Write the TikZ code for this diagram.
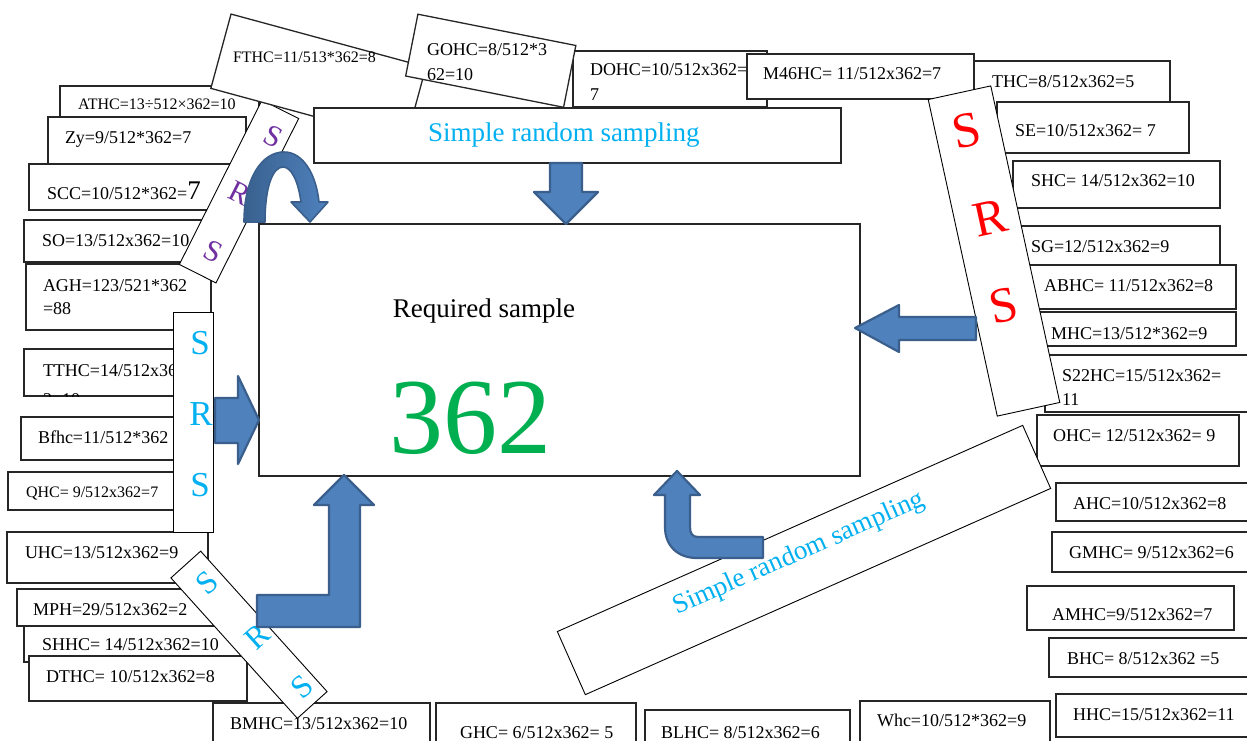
\documentclass[tikz,border=0pt]{standalone}
\usepackage{fontspec}
\setmainfont{Liberation Serif}
\definecolor{arrowblue}{HTML}{4F81BD}
\definecolor{arrowedge}{HTML}{3A5F8C}
\definecolor{arrowdark}{HTML}{39618F}
\definecolor{srscyan}{HTML}{00B0F0}
\definecolor{srspurple}{HTML}{7030A0}
\definecolor{srsred}{HTML}{FF0000}
\definecolor{samplegreen}{HTML}{00B050}
\tikzset{
  cellbox/.style={draw=black!85, line width=1.3pt, fill=white, inner sep=0pt, outer sep=0pt},
  srsbox/.style={draw=black, line width=0.9pt, fill=white, inner sep=0pt, outer sep=0pt},
  txt/.style={inner sep=0pt, outer sep=0pt, anchor=base west, font=\fontsize{18}{22}\selectfont},
  txts/.style={txt, font=\fontsize{16}{20}\selectfont},
  bigtxt/.style={inner sep=0pt, outer sep=0pt, font=\fontsize{27}{30}\selectfont},
  letter/.style={inner sep=0pt, outer sep=0pt},
  blockarrow/.style={fill=arrowblue, draw=arrowedge, line width=2.2pt, line join=round},
  curvearrow/.style={left color=arrowdark, right color=arrowblue, draw=arrowedge, line width=1.6pt, line join=round}
}
% axis-aligned box given by its corners
\newcommand\boxnode[5]{\node[cellbox, minimum width={#4-#2}, minimum height={#5-#3}] (#1) at ({(#2+#4)/2},{(#3+#5)/2}) {};}
\begin{document}
\begin{tikzpicture}[x=1pt,y=-1pt]
\useasboundingbox[fill=white] (0,0) rectangle (1247,741);

% ---- left column of strata ----
\boxnode{athc}{60}{86}{259}{130}
\node[txts] (athc-t) at (78,110) {ATHC=13÷512×362=10};
\boxnode{zy}{48}{117}{246}{164}
\node[txt] (zy-t) at (65,143) {Zy=9/512*362=7};
\boxnode{scc}{29}{164}{230}{210}
\node[txt] (scc-t) at (47,199) {SCC=10/512*362={\fontsize{27}{27}\selectfont 7}};
\boxnode{so}{24}{220}{215}{262}
\node[txt] (so-t) at (42,246) {SO=13/512x362=10};
\boxnode{agh}{26}{264}{211}{330}
\node[txt] (agh-t1) at (43,291) {AGH=123/521*362};
\node[txt] (agh-t2) at (43,314) {=88};
\boxnode{tthc}{24}{349}{190}{396}
\begin{scope}
  \clip (24,349) rectangle (190,396);
  \node[txt] (tthc-t1) at (43,376) {TTHC=14/512x36};
  \node[txt] (tthc-t2) at (43,405) {2=10};
\end{scope}
\boxnode{bfhc}{21}{417}{190}{460}
\node[txt] (bfhc-t) at (38,443) {Bfhc=11/512*362};
\boxnode{qhc}{8}{472}{190}{510}
\node[txts] (qhc-t) at (26,497) {QHC= 9/512x362=7};
\boxnode{uhc}{7}{532}{208}{583}
\node[txt] (uhc-t) at (25,558) {UHC=13/512x362=9};
\boxnode{mph}{17}{589}{225}{626}
\node[txt] (mph-t) at (33,615) {MPH=29/512x362=2};
\boxnode{shhc}{24}{626}{255}{662}
\node[txt] (shhc-t) at (42,650) {SHHC= 14/512x362=10};
\boxnode{dthc}{29}{656}{247}{701}
\node[txt] (dthc-t) at (46,682) {DTHC= 10/512x362=8};

% ---- bottom row ----
\boxnode{bmhc}{213}{703}{430}{760}
\node[txt] (bmhc-t) at (230,729) {BMHC=13/512x362=10};
\boxnode{ghc}{436}{703}{636}{760}
\node[txt] (ghc-t) at (460,738) {GHC= 6/512x362= 5};
\boxnode{blhc}{645}{710}{850}{760}
\node[txt] (blhc-t) at (661,738) {BLHC= 8/512x362=6};
\boxnode{whc}{860}{701}{1050}{760}
\node[txt] (whc-t) at (877,726) {Whc=10/512*362=9};

% ---- right column ----
\boxnode{hhc}{1056}{694}{1262}{737}
\node[txt] (hhc-t) at (1073,720) {HHC=15/512x362=11};
\boxnode{bhc}{1049}{638}{1262}{677}
\node[txt] (bhc-t) at (1067,664) {BHC= 8/512x362 =5};
\boxnode{amhc}{1027}{586}{1234}{630}
\node[txt] (amhc-t) at (1052,620) {AMHC=9/512x362=7};
\boxnode{gmhc}{1052}{532}{1262}{572}
\node[txt] (gmhc-t) at (1069,558) {GMHC= 9/512x362=6};
\boxnode{ahc}{1056}{483}{1262}{521}
\node[txt] (ahc-t) at (1073,509) {AHC=10/512x362=8};
\boxnode{ohc}{1037}{415}{1239}{466}
\node[txt] (ohc-t) at (1053,441) {OHC= 12/512x362= 9};
\boxnode{thc}{974}{61}{1170}{110}
\node[txt] (thc-t) at (992,88) {THC=8/512x362=5};
\boxnode{se}{997}{102}{1189}{153}
\node[txt] (se-t) at (1015,137) {SE=10/512x362= 7};
\boxnode{shc}{1013}{161}{1220}{208}
\node[txt] (shc-t) at (1031,186) {SHC= 14/512x362=10};
\boxnode{sg}{1000}{226}{1220}{270}
\node[txt] (sg-t) at (1031,252) {SG=12/512x362=9};
\boxnode{abhc}{1010}{265}{1236}{309}
\node[txt] (abhc-t) at (1044,291) {ABHC= 11/512x362=8};
\boxnode{mhc}{1020}{312}{1236}{346}
\node[txt] (mhc-t) at (1051,339) {MHC=13/512*362=9};
\boxnode{s22hc}{1045}{355}{1262}{412}
\node[txt] (s22hc-t1) at (1062,381) {S22HC=15/512x362=};
\node[txt] (s22hc-t2) at (1062,405) {11};

% ---- top row ----
\boxnode{dohc}{573}{51}{767}{107}
\node[txt] (dohc-t1) at (590,76) {DOHC=10/512x362=};
\node[txt] (dohc-t2) at (590,101) {7};
\boxnode{m46hc}{747}{54}{974}{99}
\node[txt] (m46hc-t) at (763,80) {M46HC= 11/512x362=7};

% ---- SRS strips ----
\node[srsbox, minimum width=40, minimum height=220] (srsleft) at (193,422) {};
\node[letter, text=srscyan, font=\fontsize{35}{35}\selectfont] (srsleft-s1) at (200,343) {S};
\node[letter, text=srscyan, font=\fontsize{35}{35}\selectfont] (srsleft-r) at (201,414) {R};
\node[letter, text=srscyan, font=\fontsize{35}{35}\selectfont] (srsleft-s2) at (200,485) {S};

\node[srsbox, minimum width=41, minimum height=184, rotate=-26.7] (srspurple) at (239,191.5) {};
\node[letter, text=srspurple, font=\fontsize{30}{30}\selectfont, rotate=-26.7] (srspurple-s1) at (273,137) {S};
\node[letter, text=srspurple, font=\fontsize{30}{30}\selectfont, rotate=-26.7] (srspurple-r) at (240,193) {R};
\node[letter, text=srspurple, font=\fontsize{30}{30}\selectfont, rotate=-26.7] (srspurple-s2) at (213,252) {S};

\node[cellbox, minimum width=202, minimum height=77, rotate=-15.2] (fthc) at (318.4,77.7) {};
\node[txts] (fthc-t) at (233,63) {FTHC=11/513*362=8};
\node[cellbox, minimum width=161, minimum height=63, rotate=-11.2] (gohc) at (490.75,60.75) {};
\node[txt] (gohc-t1) at (427,56) {GOHC=8/512*3};
\node[txt] (gohc-t2) at (427,81) {62=10};

\node[srsbox, minimum width=64, minimum height=324, rotate=12.3] (srsred) at (994,251) {};
\node[letter, text=srsred, font=\fontsize{50}{50}\selectfont, rotate=12.3] (srsred-s1) at (967,131) {S};
\node[letter, text=srsred, font=\fontsize{50}{50}\selectfont, rotate=12.3] (srsred-r) at (990,218) {R};
\node[letter, text=srsred, font=\fontsize{50}{50}\selectfont, rotate=12.3] (srsred-s2) at (1004,306) {S};

% ---- sampling boxes and the required sample ----
\boxnode{srstop}{314}{108}{841}{163}
\node[bigtxt, anchor=base west, text=srscyan] (srstop-t) at (428,142) {Simple random sampling};

\boxnode{main}{259}{224}{860}{476}
\node[bigtxt, anchor=base] (main-t) at (484,317) {Required sample};
\node[inner sep=0pt, anchor=base, text=samplegreen, font=\fontsize{108}{108}\selectfont] (main-n) at (470,453) {362};

\node[srsbox, minimum width=509, minimum height=69, rotate=23.9] (srsdiag) at (804,560) {};
\node[bigtxt, rotate=23.9, text=srscyan] (srsdiag-t) at (799,554) {Simple random sampling};

\node[srsbox, minimum width=40, minimum height=189, rotate=42] (srsbl) at (249,634.75) {};
\node[letter, text=srscyan, font=\fontsize{32}{32}\selectfont, rotate=42] (srsbl-s1) at (207,583) {S};
\node[letter, text=srscyan, font=\fontsize{32}{32}\selectfont, rotate=42] (srsbl-r) at (257,637) {R};
\node[letter, text=srscyan, font=\fontsize{32}{32}\selectfont, rotate=42] (srsbl-s2) at (302,687) {S};

% ---- block arrows into the required sample ----
\draw[blockarrow] (550,163) -- (582,163) -- (582,192) -- (598,192) -- (566,224) -- (534,192) -- (550,192) -- cycle;
\draw[blockarrow] (976,317) -- (976,340) -- (899,340) -- (899,352) -- (855,328) -- (899,305) -- (899,317) -- cycle;
\draw[blockarrow] (215,398) -- (238,398) -- (238,376) -- (259,420) -- (238,464) -- (238,443) -- (215,443) -- cycle;
\draw[blockarrow] (344,475) -- (374,505) -- (360,505) -- (360,627) -- (257,627) -- (257,595) -- (329,595) -- (329,505) -- (314,505) -- cycle;
\draw[blockarrow] (677,471) -- (700,495) -- (690,495) -- (690,527) .. controls (690,533) and (692,537) .. (698,537) -- (763,537) -- (763,558) -- (697,558) .. controls (678,558) and (665,546) .. (665,527) -- (665,495) -- (654,495) -- cycle;
\draw[curvearrow] (244,222) .. controls (244,178) and (262,152) .. (284,152) .. controls (303,152) and (316,174) .. (319,202) -- (328,202) -- (310,222) -- (291,202) -- (301,202) .. controls (298,180) and (291,167) .. (283,167) .. controls (273,167) and (265,186) .. (265,222) -- cycle;
\end{tikzpicture}
\end{document}
